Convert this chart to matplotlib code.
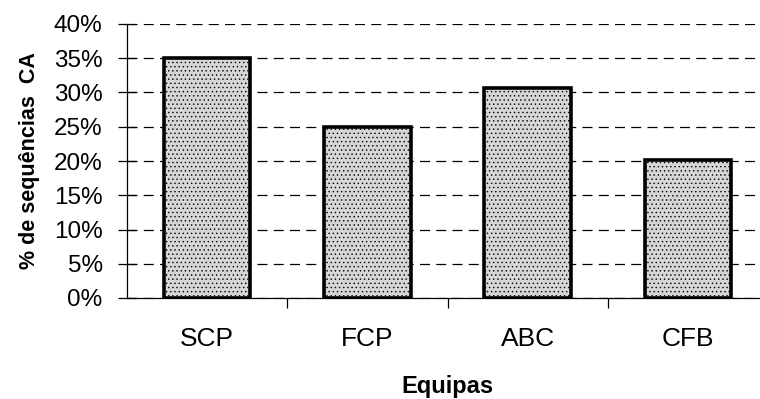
import matplotlib.pyplot as plt
import numpy as np
from matplotlib.ticker import PercentFormatter

plt.rcParams['font.family'] = ['Liberation Sans', 'DejaVu Sans']
plt.rcParams['hatch.color'] = '#8a8a8a'
plt.rcParams['hatch.linewidth'] = 0.5

equipas = ["SCP", "FCP", "ABC", "CFB"]
percent_ca = [35.0, 25.0, 30.7, 20.2]
y_ticks = [0, 5, 10, 15, 20, 25, 30, 35, 40]

fig = plt.figure(figsize=(7.6, 3.99), dpi=100)
ax = fig.add_axes([127 / 760, 1 - 298 / 399, 641 / 760, 274 / 399])

x = np.arange(len(equipas))
ax.bar(x, percent_ca, 0.54, color="#d6d6d6", edgecolor="black",
       linewidth=2.6, hatch="....", zorder=3)

ax.set_xlim(-0.5, len(equipas) - 0.5)
ax.set_ylim(0, 40)
ax.set_yticks(y_ticks)
ax.yaxis.set_major_formatter(PercentFormatter(decimals=0))
ax.yaxis.grid(True, linestyle=(0, (8, 5)), color="black", linewidth=0.9, zorder=0)

# category labels without tick marks; tick marks sit between categories
ax.set_xticks(x)
ax.set_xticklabels(equipas, fontsize=19)
ax.tick_params(axis="x", length=0, pad=21)
ax.set_xticks(np.arange(0.5, len(equipas) - 0.5), minor=True)
ax.tick_params(axis="x", which="minor", length=7, width=0.9, direction="out")
ax.tick_params(axis="y", length=13, width=0.9, direction="inout",
               labelsize=17.5, pad=11)

for side in ["top", "right"]:
    ax.spines[side].set_visible(False)
ax.spines["left"].set_linewidth(0.9)
ax.spines["bottom"].set_linewidth(0.9)

ax.set_ylabel("% de sequências  CA", fontsize=15.5, fontweight="bold", labelpad=10)
ax.set_xlabel("Equipas", fontsize=17, fontweight="bold", labelpad=17)

fig.savefig("out.png", dpi=100)
